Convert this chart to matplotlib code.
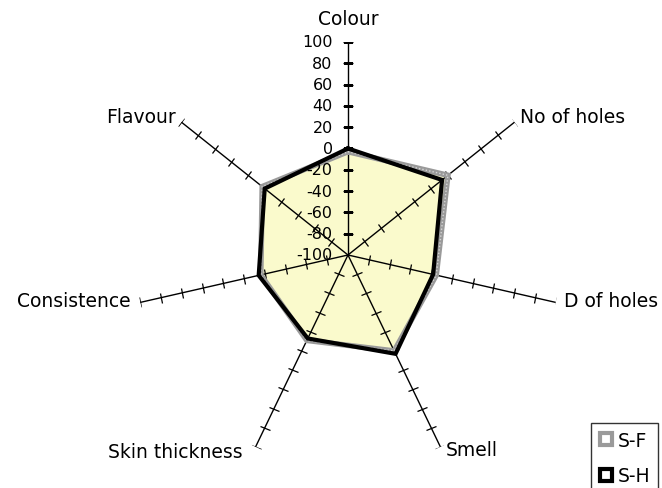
import numpy as np
import matplotlib
matplotlib.use("Agg")
import matplotlib.pyplot as plt
from matplotlib.markers import MarkerStyle
from matplotlib.transforms import Affine2D
from matplotlib.lines import Line2D

# data
categories = ['Colour', 'No of holes', 'D of holes', 'Smell',
              'Skin thickness', 'Consistence', 'Flavour']
sf_values = [-3, 20, -15, 0, -11, -16, 3]
sh_values = [0, 13, -18, 3, -13, -14, 0]
tick_values = [-100, -80, -60, -40, -20, 0, 20, 40, 60, 80, 100]

plt.rcParams['font.family'] = ['DejaVu Sans']

fig = plt.figure(figsize=(6.62, 4.89), dpi=100)
ax = fig.add_axes([0.2039, 0.0409, 0.6435, 0.8712], projection='polar')
ax.set_theta_zero_location('N')
ax.set_theta_direction(-1)
ax.set_ylim(-100, 100)
ax.axis('off')

n = len(categories)
angles = np.arange(n) * 2 * np.pi / n
closed_angles = np.append(angles, angles[0])
sf_closed = np.append(sf_values, sf_values[0])
sh_closed = np.append(sh_values, sh_values[0])

# pale yellow fill inside the series
ax.fill(closed_angles, sf_closed, color='#fafacc', zorder=1, lw=0)
ax.fill(closed_angles, sh_closed, color='#fafacc', zorder=1, lw=0)

# spokes with small cross ticks
for th in angles:
    ax.plot([th, th], [-100, 100], color='black', lw=1, zorder=2)
    mk = MarkerStyle('_', transform=Affine2D().rotate_deg(-np.degrees(th)))
    ax.plot([th] * (len(tick_values) - 1), tick_values[1:], ls='none',
            marker=mk, markersize=7.5, markeredgewidth=0.9, color='black',
            zorder=2)

# series outlines
ax.plot(closed_angles, sf_closed, color='#9a9a9a', lw=4, zorder=3,
        solid_joinstyle='miter')
ax.plot(closed_angles, sf_closed, color='white', lw=1, ls=(0, (1, 1.5)),
        zorder=3, alpha=0.6)
ax.plot(closed_angles, sh_closed, color='black', lw=3, zorder=4,
        solid_joinstyle='miter')

# value labels on the Colour axis
for v in tick_values:
    ax.annotate(str(v), xy=(0, v), xytext=(-11, 0), textcoords='offset points',
                ha='right', va='center', fontsize=11.5, zorder=5,
                annotation_clip=False)

# category labels
label_pos = [
    ((0, 17), 'center'),
    ((4, 4), 'left'),
    ((6, 1), 'left'),
    ((4, -2), 'left'),
    ((-9, -3), 'right'),
    ((-7, 1), 'right'),
    ((-4, 4), 'right'),
]
for th, name, (off, ha) in zip(angles, categories, label_pos):
    ax.annotate(name, xy=(th, 100), xytext=off, textcoords='offset points',
                ha=ha, va='center', fontsize=13.5, annotation_clip=False)

handles = [
    Line2D([], [], ls='none', marker='s', markersize=8, markerfacecolor='white',
           markeredgecolor='#9a9a9a', markeredgewidth=3),
    Line2D([], [], ls='none', marker='s', markersize=8, markerfacecolor='white',
           markeredgecolor='black', markeredgewidth=3),
]
leg = fig.legend(handles, ['S-F', 'S-H'], loc='lower left',
                 bbox_to_anchor=(0.893, -0.01), fontsize=13.5, frameon=True,
                 fancybox=False, edgecolor='black', handlelength=0.8,
                 handletextpad=0.2, labelspacing=0.9, borderpad=0.4,
                 borderaxespad=0)
leg.get_frame().set_linewidth(1)

fig.savefig('out.png', dpi=100)
